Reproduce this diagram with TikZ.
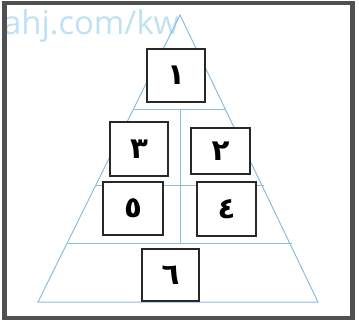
\documentclass[tikz,border=0pt]{standalone}
\usepackage{fontspec}
\setsansfont{Open Sans}
\newfontfamily\arabicfont[Script=Arabic]{DejaVu Sans}
\usepackage{tikz}
\usetikzlibrary{positioning}
\definecolor{FrameGray}{RGB}{80, 80, 80}
\definecolor{PyrBlue}{RGB}{140, 190, 220}
\definecolor{MarkBlue}{RGB}{190, 226, 243}
\definecolor{BoxInk}{RGB}{40, 40, 40}

\begin{document}
\begin{tikzpicture}[
    x=0.3mm, y=-0.3mm,
    pyrline/.style={draw=PyrBlue, line width=0.3mm},
    numbox/.style={draw=BoxInk, fill=white, line width=0.6mm, inner sep=0pt, font=\arabicfont\fontsize{25}{25}\selectfont\bfseries}
  ]
    \useasboundingbox (0,0) rectangle (359,326);

    % Watermark (top left)
    \node[font=\sffamily\fontsize{28}{28}\selectfont, text=MarkBlue, anchor=west] (mark) at (-1, 26) {ahj.com/kw};

    % Pyramid
    \coordinate (apex) at (180, 15);
    \coordinate (bl) at (38, 302);
    \coordinate (br) at (318, 302);
    \draw[pyrline] (apex) -- (br) -- (bl) -- cycle;
    \draw[pyrline] (134, 109) -- (226, 109);
    \draw[pyrline] (96, 185) -- (264, 185);
    \draw[pyrline] (68, 243) -- (292, 243);
    \draw[pyrline] (180, 109) -- (180, 243);

    % Boxes
    \node[numbox, minimum width=50, minimum height=45] (n1) at (176, 75.5) {١};
    \node[numbox, minimum width=50, minimum height=46] (n3) at (139, 149) {٣};
    \node[numbox, minimum width=51, minimum height=40] (n2) at (220.5, 151) {٢};
    \node[numbox, minimum width=52, minimum height=45] (n5) at (133, 208.5) {٥};
    \node[numbox, minimum width=51, minimum height=46] (n4) at (226.5, 209) {٤};
    \node[numbox, minimum width=49, minimum height=44] (n6) at (170.5, 275) {٦};

    % Frame
    \draw[FrameGray, line width=1.3mm] (4.5, 3) rectangle (352.5, 318);
  \end{tikzpicture}
\end{document}
